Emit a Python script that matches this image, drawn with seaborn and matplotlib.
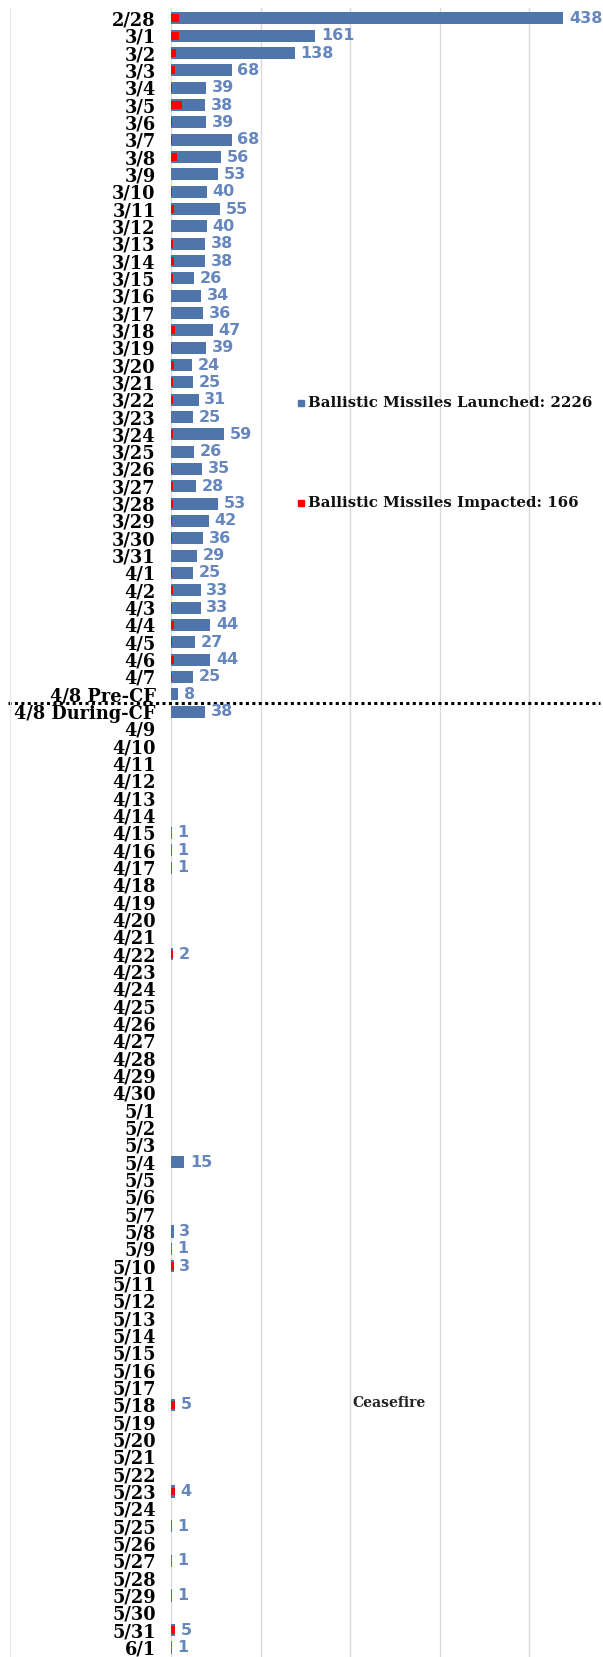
import matplotlib
matplotlib.use("Agg")
import matplotlib.pyplot as plt
import matplotlib.transforms as mtransforms
from matplotlib.patches import Rectangle
from matplotlib.lines import Line2D
import pandas as pd
import seaborn as sns

# Daily ballistic missile counts
dates = (
    ["2/28"]
    + [f"3/{d}" for d in range(1, 32)]
    + [f"4/{d}" for d in range(1, 8)]
    + ["4/8 Pre-CF", "4/8 During-CF"]
    + [f"4/{d}" for d in range(9, 31)]
    + [f"5/{d}" for d in range(1, 32)]
    + ["6/1"]
)

launched_feb_mar = [438, 161, 138, 68, 39, 38, 39, 68, 56, 53, 40, 55, 40, 38, 38, 26,
                    34, 36, 47, 39, 24, 25, 31, 25, 59, 26, 35, 28, 53, 42, 36, 29]
launched_apr = [25, 33, 33, 44, 27, 44, 25, 8, 38,
                0, 0, 0, 0, 0, 0, 1, 1, 1, 0, 0, 0, 0, 2, 0, 0, 0, 0, 0, 0, 0, 0]
launched_may_jun = [0, 0, 0, 15, 0, 0, 0, 3, 1, 3, 0, 0, 0, 0, 0, 0, 0, 5, 0, 0,
                    0, 0, 4, 0, 1, 0, 1, 0, 1, 0, 5, 1]

impacted_feb_mar = [9, 9, 6, 5, 1, 12, 1, 1, 7, 0, 1, 3, 0, 2, 3, 2,
                    0, 0, 5, 1, 3, 2, 2, 0, 2, 0, 1, 2, 2, 1, 1, 0]
impacted_apr = [1, 2, 1, 3, 1, 3, 1, 0, 0,
                0, 0, 0, 0, 0, 0, 0, 0, 0, 0, 0, 0, 0, 2, 0, 0, 0, 0, 0, 0, 0, 0]
impacted_may_jun = [0, 0, 0, 0, 0, 0, 0, 0, 0, 3, 0, 0, 0, 0, 0, 0, 0, 5, 0, 0,
                    0, 0, 4, 0, 0, 0, 0, 0, 0, 0, 4, 0]

launched = launched_feb_mar + launched_apr + launched_may_jun
impacted = impacted_feb_mar + impacted_apr + impacted_may_jun

legend_labels = ["Ballistic Missiles Launched: 2226", "Ballistic Missiles Impacted: 166"]
ceasefire_label = "Ceasefire"
split_after = "4/8 Pre-CF"

BLUE = "#5075AA"
LABEL_BLUE = "#6687BD"
RED = "#FF0000"
GRID = "#d9d9d9"

sns.set_theme(style="white")
plt.rcParams["font.family"] = ["DejaVu Serif"]

df = pd.DataFrame({"date": dates, "launched": launched, "impacted": impacted})

W, H = 603, 1657
fig = plt.figure(figsize=(W / 100, H / 100), dpi=100)
ax = fig.add_axes([171 / W, 0, 429 / W, 1649 / H])

sns.barplot(data=df, x="launched", y="date", order=dates, color=BLUE,
            saturation=1, width=0.7, linewidth=0, ax=ax)
sns.barplot(data=df, x="impacted", y="date", order=dates, color=RED,
            saturation=1, width=0.45, linewidth=0, ax=ax)

ax.bar_label(ax.containers[0],
             labels=[str(v) if v > 0 else "" for v in launched],
             padding=4, color=LABEL_BLUE, fontsize=11.5, fontweight="bold",
             family="DejaVu Sans")

ax.set_xlim(0, 479)
ax.set_ylim(len(dates) - 0.45, -0.6)
ax.set_xticks([0, 100, 200, 300, 400])
ax.set_xticklabels([])
ax.grid(axis="x", color=GRID, linewidth=1)
ax.grid(axis="y", visible=False)
ax.set_axisbelow(True)
for s in ax.spines.values():
    s.set_visible(False)
ax.set_xlabel("")
ax.set_ylabel("")
ax.tick_params(axis="y", length=0, pad=11)
ax.tick_params(axis="x", length=0)
for lbl in ax.get_yticklabels():
    lbl.set_fontsize(12.8)
    lbl.set_fontweight("bold")
    lbl.set_color("black")

# Dotted separator between pre- and during-ceasefire
split_y = dates.index(split_after) + 0.5
trans = mtransforms.blended_transform_factory(ax.transAxes, ax.transData)
ax.plot([-0.38, 1.0], [split_y, split_y], transform=trans, color="black",
        linestyle=(0, (1, 1.1)), linewidth=2.2, clip_on=False)

# Legend entries
for (label, color, ypix) in zip(legend_labels, [BLUE, RED], [403, 503]):
    fig.patches.append(Rectangle((298 / W, 1 - (ypix + 3) / H), 6 / W, 6 / H,
                                 transform=fig.transFigure, color=color))
    fig.text(308 / W, 1 - ypix / H, label, ha="left", va="center",
             fontsize=10.8, fontweight="bold", color="#111111")

fig.text(352 / W, 1 - 1403 / H, ceasefire_label, ha="left", va="center",
         fontsize=10, fontweight="bold", color="#222222")

# Faint outer frame edge on the left
fig.add_artist(Line2D([10 / W, 10 / W], [0, 1 - 7 / H], color="#e8e8e8", linewidth=0.8))

fig.savefig("out.png", dpi=100, facecolor="white")
